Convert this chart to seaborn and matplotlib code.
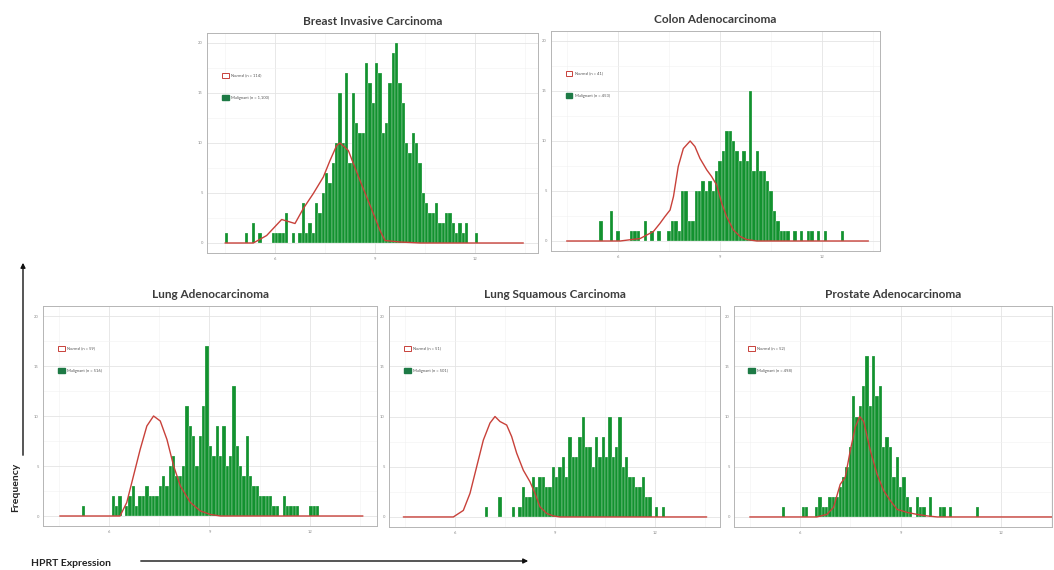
import numpy as np
import pandas as pd
import matplotlib
matplotlib.use("Agg")
import matplotlib.pyplot as plt
import seaborn as sns
from matplotlib.patches import Patch, FancyArrowPatch
from matplotlib.ticker import MultipleLocator

sns.set_theme(style="white")
plt.rcParams['font.family'] = ['Lato', 'DejaVu Sans']

# ---------------- data ----------------
titles = ["Breast Invasive Carcinoma", "Colon Adenocarcinoma", "Lung Adenocarcinoma",
          "Lung Squamous Carcinoma", "Prostate Adenocarcinoma"]
normal_labels = ["Normal (n = 114)", "Normal (n = 41)", "Normal (n = 59)",
                 "Normal (n = 51)", "Normal (n = 52)"]
malignant_labels = ["Malignant (n = 1,100)", "Malignant (n = 453)", "Malignant (n = 516)",
                    "Malignant (n = 501)", "Malignant (n = 498)"]

bin_width = 0.1
x_ticks = [6, 9, 12]
y_ticks = [0, 5, 10, 15, 20]

# malignant histogram counts (bin centres start at *_start, step bin_width)
breast_start = 4.55
breast_counts = [1, 0, 0, 0, 0, 0, 1, 0, 2, 0,
                 1, 0, 0, 0, 1, 1, 1, 1, 3, 0,
                 1, 0, 1, 4, 1, 2, 1, 4, 3, 5,
                 7, 6, 8, 10, 15, 10, 17, 8, 15, 12,
                 11, 11, 18, 16, 14, 18, 17, 11, 12, 16,
                 19, 20, 16, 14, 10, 9, 11, 10, 8, 5,
                 4, 3, 3, 4, 2, 2, 3, 3, 2, 1,
                 2, 1, 2, 0, 0, 1]

colon_start = 5.5
colon_counts = [2, 0, 0, 3, 0, 1, 0, 0, 0, 1,
                1, 1, 0, 2, 0, 1, 0, 1, 0, 0,
                1, 2, 2, 1, 5, 5, 2, 2, 5, 5,
                6, 5, 6, 5, 7, 8, 9, 11, 11, 10,
                9, 8, 9, 8, 15, 7, 9, 7, 7, 6,
                5, 3, 2, 1, 1, 1, 0, 1, 0, 1,
                0, 1, 1, 0, 1, 0, 1, 0, 0, 0,
                0, 1, 0]

luad_start = 5.23
luad_counts = [1, 0, 0, 0, 0, 0, 0, 0, 0, 2,
               1, 2, 0, 1, 2, 3, 1, 2, 2, 3,
               2, 2, 2, 3, 4, 3, 5, 6, 4, 4,
               5, 11, 9, 8, 5, 8, 11, 17, 7, 6,
               9, 6, 9, 5, 6, 13, 7, 5, 4, 8,
               4, 3, 3, 2, 2, 2, 2, 1, 1, 0,
               2, 1, 1, 1, 1, 0, 0, 0, 1, 1,
               1]

lusc_start = 6.95
lusc_counts = [1, 0, 0, 0, 2, 0, 0, 0, 1, 0,
               1, 3, 2, 2, 4, 3, 4, 4, 3, 3,
               5, 4, 5, 6, 4, 8, 6, 6, 8, 10,
               7, 7, 5, 8, 6, 8, 6, 10, 6, 7,
               10, 5, 6, 4, 4, 3, 3, 4, 2, 2,
               0, 1, 0, 1]

prad_start = 5.5
prad_counts = [1, 0, 0, 0, 0, 0, 1, 1, 0, 0,
               1, 2, 1, 1, 2, 2, 2, 3, 4, 5,
               7, 12, 10, 11, 13, 16, 11, 16, 12, 13,
               7, 8, 7, 4, 6, 3, 4, 2, 1, 0,
               2, 1, 1, 0, 2, 0, 0, 1, 1, 0,
               1, 0, 0, 0, 0, 0, 0, 0, 1]

# normal (scaled density) curves
breast_curve_x = [4.5, 5.35, 5.75, 6.2, 6.6, 6.85, 7.15, 7.45, 7.65, 7.85, 7.95, 8.2, 8.35,
                  8.55, 8.75, 8.95, 9.15, 9.3, 9.75, 10.35, 13.45]
breast_curve_y = [0, 0, 0.75, 2.35, 1.95, 3.45, 4.95, 6.6, 8.25, 9.75, 10.0, 9.25, 7.95,
                  6.25, 4.6, 2.95, 1.25, 0.25, 0.1, 0, 0]

colon_curve_x = [4.49, 6.06, 6.65, 7.04, 7.23, 7.38, 7.53, 7.63, 7.77, 7.92, 8.12, 8.26, 8.41,
                 8.61, 8.75, 8.9, 9.05, 9.19, 9.39, 9.59, 9.78, 10.08, 13.36]
colon_curve_y = [0, 0, 0.25, 0.95, 1.75, 2.45, 3.1, 4.45, 7.45, 9.25, 10.0, 9.45, 8.25,
                 7.1, 6.45, 5.6, 3.75, 2.45, 1.1, 0.45, 0.15, 0, 0]

luad_curve_x = [4.53, 6.33, 6.53, 6.73, 6.93, 7.13, 7.33, 7.53, 7.73, 7.93, 8.13, 8.43,
                8.73, 9.03, 9.33, 13.58]
luad_curve_y = [0, 0, 1.35, 4.0, 6.65, 9.0, 10.0, 9.5, 7.65, 5.0, 3.0, 1.35,
                0.5, 0.15, 0, 0]

lusc_curve_x = [4.45, 5.95, 6.25, 6.45, 6.65, 6.85, 7.05, 7.2, 7.35, 7.55, 7.7, 7.85, 8.05,
                8.25, 8.4, 8.55, 8.75, 8.95, 9.15, 13.55]
lusc_curve_y = [0, 0, 0.65, 2.35, 5.0, 7.65, 9.35, 10.0, 9.5, 9.15, 8.0, 6.35, 4.65,
                3.5, 2.35, 1.0, 0.35, 0.1, 0, 0]

prad_curve_x = [4.5, 6.5, 6.8, 7.0, 7.2, 7.35, 7.5, 7.65, 7.78, 7.9, 8.1, 8.3, 8.5, 8.7,
                8.9, 9.2, 9.5, 9.8, 10.1, 13.55]
prad_curve_y = [0, 0, 0.25, 0.95, 3.25, 3.95, 6.6, 8.95, 10.0, 9.5, 6.6, 4.25, 2.6, 1.6,
                0.75, 0.45, 0.25, 0.1, 0, 0]

starts = [breast_start, colon_start, luad_start, lusc_start, prad_start]
counts_all = [breast_counts, colon_counts, luad_counts, lusc_counts, prad_counts]
curves_x = [breast_curve_x, colon_curve_x, luad_curve_x, lusc_curve_x, prad_curve_x]
curves_y = [breast_curve_y, colon_curve_y, luad_curve_y, lusc_curve_y, prad_curve_y]

# ---------------- layout (pixels: left, right, top, bottom) ----------------
W, H = 1054, 570
boxes = [(207, 538, 33, 253), (551, 880, 31, 251), (43, 377, 306, 526),
         (389, 720, 306, 527), (734, 1052, 306, 527)]
xlims = [(3.96, 13.89), (4.03, 13.70), (4.03, 14.0), (4.02, 13.95), (4.03, 13.52)]
ylim = (-1, 21)

GREEN = "#12922f"
LEG_GREEN = "#1d7a45"
RED = "#c8413a"

fig = plt.figure(figsize=(W / 100, H / 100), dpi=100)

for i in range(5):
    l, r, t, b = boxes[i]
    ax = fig.add_axes([l / W, (H - b) / H, (r - l) / W, (b - t) / H])
    counts = counts_all[i]
    centers = starts[i] + bin_width * np.arange(len(counts))
    lo = float(centers[0] - bin_width / 2)
    hi = float(centers[-1] + bin_width / 2)
    df = pd.DataFrame({"expr": centers, "n": np.asarray(counts, dtype=float)})
    sns.histplot(data=df, x="expr", weights="n", binwidth=bin_width, binrange=(lo, hi),
                 ax=ax, color=GREEN, alpha=1.0, edgecolor=(1, 1, 1, 0.55),
                 linewidth=0.35, zorder=2)
    cdf = pd.DataFrame({"expr": curves_x[i], "dens": curves_y[i]})
    sns.lineplot(data=cdf, x="expr", y="dens", ax=ax, color=RED, linewidth=1.0,
                 sort=False, zorder=3)
    ax.set_xlim(*xlims[i])
    ax.set_ylim(*ylim)
    ax.set_xticks(x_ticks)
    ax.set_yticks(y_ticks)
    ax.xaxis.set_minor_locator(MultipleLocator(1.5))
    ax.yaxis.set_minor_locator(MultipleLocator(2.5))
    ax.grid(True, which="major", color="#e4e4e4", linewidth=0.6, zorder=0)
    ax.grid(True, which="minor", color="#f1f1f1", linewidth=0.4, zorder=0)
    ax.set_axisbelow(True)
    ax.tick_params(axis="both", which="major", labelsize=3, colors="#8a8a8a",
                   length=1.5, width=0.4, pad=1.5)
    ax.tick_params(axis="both", which="minor", length=0)
    for s in ax.spines.values():
        s.set_color("#b5b5b5")
        s.set_linewidth(0.7)
    ax.set_xlabel("")
    ax.set_ylabel("")
    ax.set_title(titles[i], fontsize=8.5, fontweight="bold", color="#3c3c3c", pad=6)
    handles = [Patch(facecolor="white", edgecolor=RED, linewidth=0.7, label=normal_labels[i]),
               Patch(facecolor=LEG_GREEN, edgecolor=LEG_GREEN, label=malignant_labels[i])]
    ax.legend(handles=handles, loc="upper left", bbox_to_anchor=(0.045, 0.82),
              frameon=False, fontsize=3, labelspacing=4.0, handlelength=1.6,
              handleheight=1.6, handletextpad=0.5, borderaxespad=0, borderpad=0,
              labelcolor="#555555")

# axis annotations (arrows)
fig.text(16 / W, 1 - 487 / H, "Frequency", rotation=90, ha="center", va="center",
         fontsize=7.5, fontweight="bold", color="#222222")
fig.add_artist(FancyArrowPatch(
    (23 / W, 1 - 458 / H), (23 / W, 1 - 260 / H), transform=fig.transFigure,
    arrowstyle="-|>", mutation_scale=7, color="#111111", linewidth=1.0))
fig.text(31 / W, 1 - 563 / H, "HPRT Expression", ha="left", va="center",
         fontsize=7.5, fontweight="bold", color="#222222")
fig.add_artist(FancyArrowPatch(
    (138 / W, 1 - 561 / H), (531 / W, 1 - 561 / H), transform=fig.transFigure,
    arrowstyle="-|>", mutation_scale=7, color="#111111", linewidth=1.0))

fig.savefig("out.png", dpi=100)
